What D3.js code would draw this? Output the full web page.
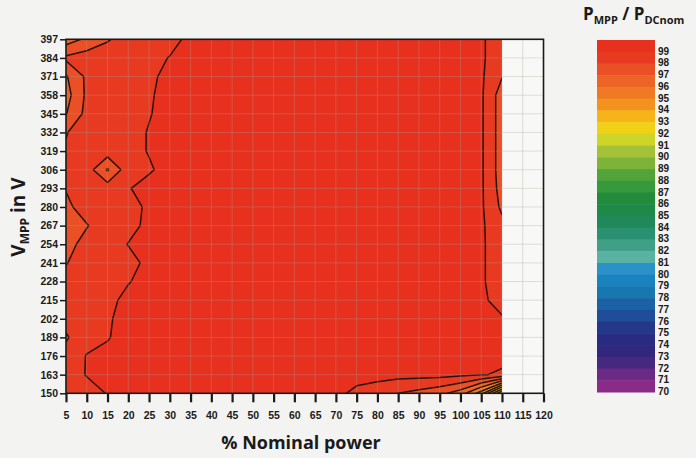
<!DOCTYPE html>
<html>
<head>
<meta charset="utf-8">
<script src="https://cdn.jsdelivr.net/npm/d3@7"></script>
<style>
  body { margin: 0; background: #f3f3f1; }
  svg { display: block; }
  .tick text { font-family: "Liberation Sans Narrow", "Liberation Sans", Arial, sans-serif; font-weight: bold; font-size: 10.5px; fill: #1a1a1a; }
</style>
</head>
<body>
<svg id="chart" width="696" height="458"></svg>
<script>
// columns of the measurement grid (% of nominal power)
const powerPct = [5, 10, 15, 20, 25, 30, 35, 40, 45, 50, 55, 60, 65, 70, 75, 80, 85, 90, 95, 100, 105, 110];
// rows of the grid, top to bottom (MPP voltage in V)
const vmppRows = [397, 384, 371, 358, 345, 332, 319, 306, 293, 280, 267, 254, 241, 228, 215, 202, 189, 176, 163, 150];
const xTickValues = [5, 10, 15, 20, 25, 30, 35, 40, 45, 50, 55, 60, 65, 70, 75, 80, 85, 90, 95, 100, 105, 110, 115, 120];

// MPP efficiency in %, one row per voltage
const eff397 = [96.5, 97.2, 97.9, 98.5, 98.6, 98.6, 99.3, 99.3, 99.3, 99.3, 99.3, 99.3, 99.3, 99.3, 99.3, 99.3, 99.3, 99.3, 99.3, 99.3, 99.1, 98.6];
const eff384 = [98.2, 98.5, 98.6, 98.6, 98.6, 99.05, 99.3, 99.3, 99.3, 99.3, 99.3, 99.3, 99.3, 99.3, 99.3, 99.3, 99.3, 99.3, 99.3, 99.3, 99.1, 98.6];
const eff371 = [96.9, 98.2, 98.5, 98.6, 98.75, 99.35, 99.3, 99.3, 99.3, 99.3, 99.3, 99.3, 99.3, 99.3, 99.3, 99.3, 99.3, 99.3, 99.3, 99.3, 99.15, 98.05];
const eff358 = [96.6, 98.2, 98.5, 98.6, 98.9, 99.3, 99.3, 99.3, 99.3, 99.3, 99.3, 99.3, 99.3, 99.3, 99.3, 99.3, 99.3, 99.3, 99.3, 99.3, 99.15, 97.5];
const eff345 = [96.95, 98.3, 98.5, 98.6, 98.95, 99.3, 99.3, 99.3, 99.3, 99.3, 99.3, 99.3, 99.3, 99.3, 99.3, 99.3, 99.3, 99.3, 99.3, 99.3, 99.15, 97.5];
const eff332 = [97.95, 98.5, 98.55, 98.7, 99.05, 99.3, 99.3, 99.3, 99.3, 99.3, 99.3, 99.3, 99.3, 99.3, 99.3, 99.3, 99.3, 99.3, 99.3, 99.3, 99.15, 97.5];
const eff319 = [98.1, 98.5, 98.5, 98.7, 99.05, 99.3, 99.3, 99.3, 99.3, 99.3, 99.3, 99.3, 99.3, 99.3, 99.3, 99.3, 99.3, 99.3, 99.3, 99.3, 99.15, 97.5];
const eff306 = [98.1, 98.5, 96.9, 98.6, 98.9, 99.3, 99.3, 99.3, 99.3, 99.3, 99.3, 99.3, 99.3, 99.3, 99.3, 99.3, 99.3, 99.3, 99.3, 99.3, 99.15, 97.5];
const eff293 = [98.05, 98.5, 98.5, 98.95, 99.3, 99.3, 99.3, 99.3, 99.3, 99.3, 99.3, 99.3, 99.3, 99.3, 99.3, 99.3, 99.3, 99.3, 99.3, 99.3, 99.15, 97.6];
const eff280 = [97.8, 98.4, 98.6, 98.8, 99.1, 99.3, 99.3, 99.3, 99.3, 99.3, 99.3, 99.3, 99.3, 99.3, 99.3, 99.3, 99.3, 99.3, 99.3, 99.3, 99.15, 97.8];
const eff267 = [97.4, 97.95, 98.5, 98.8, 99.15, 99.3, 99.3, 99.3, 99.3, 99.3, 99.3, 99.3, 99.3, 99.3, 99.3, 99.3, 99.3, 99.3, 99.3, 99.3, 99.15, 98.3];
const eff254 = [97.7, 98.3, 98.7, 99.02, 99.3, 99.3, 99.3, 99.3, 99.3, 99.3, 99.3, 99.3, 99.3, 99.3, 99.3, 99.3, 99.3, 99.3, 99.3, 99.3, 99.1, 98.6];
const eff241 = [97.95, 98.5, 98.6, 98.8, 99.15, 99.3, 99.3, 99.3, 99.3, 99.3, 99.3, 99.3, 99.3, 99.3, 99.3, 99.3, 99.3, 99.3, 99.3, 99.3, 99.1, 98.6];
const eff228 = [98.3, 98.5, 98.6, 98.95, 99.3, 99.3, 99.3, 99.3, 99.3, 99.3, 99.3, 99.3, 99.3, 99.3, 99.3, 99.3, 99.3, 99.3, 99.3, 99.3, 99.1, 98.6];
const eff215 = [98.4, 98.6, 98.75, 99.25, 99.3, 99.3, 99.3, 99.3, 99.3, 99.3, 99.3, 99.3, 99.3, 99.3, 99.3, 99.3, 99.3, 99.3, 99.3, 99.3, 99.1, 98.8];
const eff202 = [98.3, 98.6, 98.9, 99.3, 99.3, 99.3, 99.3, 99.3, 99.3, 99.3, 99.3, 99.3, 99.3, 99.3, 99.3, 99.3, 99.3, 99.3, 99.3, 99.3, 99.2, 99.05];
const eff189 = [97.9, 98.6, 98.95, 99.3, 99.3, 99.3, 99.3, 99.3, 99.3, 99.3, 99.3, 99.3, 99.3, 99.3, 99.3, 99.3, 99.3, 99.3, 99.3, 99.3, 99.3, 99.2];
const eff176 = [98.3, 99.05, 99.2, 99.3, 99.3, 99.3, 99.3, 99.3, 99.3, 99.3, 99.3, 99.3, 99.3, 99.3, 99.3, 99.3, 99.3, 99.3, 99.3, 99.3, 99.3, 99.2];
const eff163 = [98.5, 99.05, 99.1, 99.3, 99.3, 99.3, 99.3, 99.3, 99.3, 99.3, 99.3, 99.3, 99.3, 99.3, 99.3, 99.3, 99.3, 99.3, 99.3, 99.2, 99.05, 98.9];
const eff150 = [98.6, 98.6, 99.05, 99.3, 99.3, 99.3, 99.3, 99.3, 99.3, 99.3, 99.3, 99.3, 99.3, 99.2, 98.8, 98.5, 98.0, 97.7, 97.3, 96.5, 94.5, 90.0];

const effRows = [eff397, eff384, eff371, eff358, eff345, eff332, eff319, eff306, eff293, eff280,
                 eff267, eff254, eff241, eff228, eff215, eff202, eff189, eff176, eff163, eff150];

// colour scale levels, top to bottom
const legendLevels = [99, 98, 97, 96, 95, 94, 93, 92, 91, 90, 89, 88, 87, 86, 85, 84, 83, 82, 81, 80, 79, 78, 77, 76, 75, 74, 73, 72, 71, 70];
const legendColors = ["#e8301e", "#e83a21", "#ea4f25", "#ed6427", "#f07a24", "#f3931d", "#f6b418", "#f2d016", "#cfd428", "#a3c23a",
                      "#7db338", "#52a33a", "#36993b", "#228c3c", "#1e8a47", "#21885c", "#2a9072", "#3fa085", "#5ab3a2", "#2b92c9",
                      "#1b82c0", "#1877b0", "#1a62a5", "#1f4d97", "#24388a", "#292b82", "#31277e", "#47287f", "#6a2a85", "#8a2b88"];

const svg = d3.select("#chart");
const plotL = 66, plotR = 543.5, plotT = 39.3, plotB = 393.3;

const x = d3.scaleLinear().domain([5, 120]).range([plotL, plotR]);
const y = d3.scaleLinear().domain([150, 397]).range([plotB, plotT]);

function levelColor(t) {
    const i = legendLevels.indexOf(t);
    return i < 0 ? legendColors[legendColors.length - 1] : legendColors[i];
}

// plot background
svg.append("rect")
    .attr("x", plotL).attr("y", plotT)
    .attr("width", plotR - plotL).attr("height", plotB - plotT)
    .attr("fill", "#f8f8f6");

// clip to measured area
svg.append("clipPath").attr("id", "dataClip")
    .append("rect")
    .attr("x", x(powerPct[0])).attr("y", y(vmppRows[0]))
    .attr("width", x(powerPct[powerPct.length - 1]) - x(powerPct[0]))
    .attr("height", y(vmppRows[vmppRows.length - 1]) - y(vmppRows[0]));

// contours on the grid, grid point i sits at i + 0.5 in d3.contours space
const nx = powerPct.length, ny = vmppRows.length;
const dp = powerPct[1] - powerPct[0];
const dv = vmppRows[1] - vmppRows[0];
const values = effRows.flat();
const thresholds = legendLevels.slice().reverse();
const contours = d3.contours().size([nx, ny]).thresholds(thresholds)(values);

const proj = d3.geoTransform({
    point: function(gx, gy) {
        this.stream.point(x(powerPct[0] + (gx - 0.5) * dp), y(vmppRows[0] + (gy - 0.5) * dv));
    }
});
const path = d3.geoPath(proj);

svg.append("g")
    .attr("clip-path", "url(#dataClip)")
    .selectAll("path")
    .data(contours)
    .enter().append("path")
    .attr("d", path)
    .attr("fill", function(d) { return levelColor(d.value); })
    .attr("stroke", "#2a120c")
    .attr("stroke-width", 1.5)
    .attr("stroke-linejoin", "round");

// light grid over everything
const grid = svg.append("g").attr("stroke", "#a8a49a").attr("stroke-opacity", 0.4).attr("stroke-width", 0.8);
grid.selectAll(".gx").data(xTickValues).enter().append("line")
    .attr("x1", d => x(d)).attr("x2", d => x(d))
    .attr("y1", plotT).attr("y2", plotB);
grid.selectAll(".gy").data(vmppRows).enter().append("line")
    .attr("x1", plotL).attr("x2", plotR)
    .attr("y1", d => y(d)).attr("y2", d => y(d));

// frame
svg.append("rect")
    .attr("x", plotL).attr("y", plotT)
    .attr("width", plotR - plotL).attr("height", plotB - plotT)
    .attr("fill", "none").attr("stroke", "#1a1a1a").attr("stroke-width", 1.6);

// axes
const xAxis = svg.append("g")
    .attr("transform", "translate(0," + plotB + ")")
    .call(d3.axisBottom(x).tickValues(xTickValues).tickSize(9).tickPadding(9).tickFormat(d3.format("d")));
xAxis.select(".domain").remove();
xAxis.selectAll(".tick line").attr("stroke", "#1a1a1a").attr("stroke-width", 2.2);

const yAxis = svg.append("g")
    .attr("transform", "translate(" + plotL + ",0)")
    .call(d3.axisLeft(y).tickValues(vmppRows).tickSize(6).tickPadding(2).tickFormat(d3.format("d")));
yAxis.select(".domain").remove();
yAxis.selectAll(".tick line").attr("stroke", "#1a1a1a").attr("stroke-width", 1.5);

// axis titles
svg.append("text")
    .attr("x", 301).attr("y", 449)
    .attr("text-anchor", "middle")
    .style("font-family", "'Open Sans', Lato, sans-serif")
    .style("font-weight", "bold")
    .style("font-size", "18px")
    .attr("fill", "#1a1a1a")
    .text("% Nominal power");

const yTitle = svg.append("text")
    .attr("transform", "translate(25,217) rotate(-90)")
    .attr("text-anchor", "middle")
    .style("font-family", "'Open Sans', Lato, sans-serif")
    .style("font-weight", "bold")
    .attr("fill", "#1a1a1a");
yTitle.append("tspan").style("font-size", "19px").text("V");
yTitle.append("tspan").style("font-size", "12px").attr("dy", 4).text("MPP");
yTitle.append("tspan").style("font-size", "19px").attr("dy", -4).text(" in V");

// colour legend
const legTop = 40, legBottom = 392, legX = 597, legW = 58;
const bandH = (legBottom - legTop) / legendLevels.length;
const legend = svg.append("g");
legend.selectAll("rect")
    .data(legendLevels)
    .enter().append("rect")
    .attr("x", legX)
    .attr("y", (d, i) => legTop + i * bandH)
    .attr("width", legW)
    .attr("height", bandH + 0.5)
    .attr("fill", (d, i) => legendColors[i]);
legend.selectAll("text")
    .data(legendLevels)
    .enter().append("text")
    .attr("x", legX + legW + 3)
    .attr("y", (d, i) => legTop + (i + 1) * bandH + 3)
    .style("font-family", "'Liberation Sans Narrow', 'Liberation Sans', Arial, sans-serif")
    .style("font-weight", "bold")
    .style("font-size", "10px")
    .attr("fill", "#1a1a1a")
    .text(d => d);

const legTitle = svg.append("text")
    .attr("x", 583).attr("y", 20)
    .style("font-family", "'Open Sans', Lato, sans-serif")
    .style("font-weight", "bold")
    .attr("fill", "#1a1a1a");
legTitle.append("tspan").style("font-size", "17px").text("P");
legTitle.append("tspan").style("font-size", "11px").attr("dy", 4).text("MPP");
legTitle.append("tspan").style("font-size", "17px").attr("dy", -4).text(" / P");
legTitle.append("tspan").style("font-size", "11px").attr("dy", 4).text("DCnom");
</script>
</body>
</html>
